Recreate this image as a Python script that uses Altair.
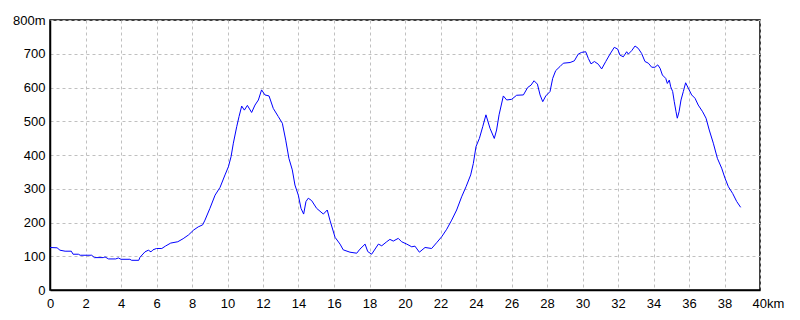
import altair as alt
import pandas as pd

# distance along route (km)
km = [0.0, 0.4, 0.56, 0.85, 1.2, 1.3, 1.6, 1.7, 2.35, 2.5, 3.0, 3.1, 3.3, 3.7, 3.85, 4.0, 4.5, 4.6, 5.0,
      5.07, 5.35, 5.54, 5.69, 5.8, 6.0, 6.3, 6.5, 6.8, 7.2, 7.5, 7.8, 8.1, 8.35, 8.6,
      8.73, 9.01, 9.3, 9.58, 9.86, 10.05, 10.2, 10.33, 10.52, 10.65, 10.8, 10.95, 11.12, 11.36, 11.55,
      11.74, 11.92, 12.11, 12.34, 12.58, 12.86, 13.09, 13.28, 13.46, 13.65, 13.8, 13.99, 14.14, 14.29,
      14.42, 14.55, 14.74, 15.02, 15.4, 15.62, 15.77, 16.06, 16.34, 16.52, 16.9, 17.28, 17.46, 17.75,
      17.9, 18.12, 18.5, 18.69, 18.97, 19.15, 19.34, 19.62, 19.81, 20.1, 20.38, 20.56, 20.81, 21.13,
      21.5, 21.78, 22.07, 22.35, 22.63, 22.91, 23.19, 23.44, 23.7, 23.85, 24.0, 24.19, 24.38, 24.56,
      24.79, 25.03, 25.16, 25.3, 25.54, 25.73, 26.01, 26.29, 26.67, 26.91, 27.1, 27.27, 27.46, 27.61,
      27.76, 27.93, 28.17, 28.32, 28.49, 28.73, 28.92, 29.3, 29.54, 29.76, 29.95, 30.18, 30.33, 30.48,
      30.67, 30.89, 31.08, 31.31, 31.55, 31.79, 31.98, 32.11, 32.3, 32.49, 32.58, 32.77, 32.96, 33.14,
      33.33, 33.52, 33.71, 33.9, 34.08, 34.24, 34.37, 34.5, 34.69, 34.78, 34.89, 34.97, 35.08, 35.17,
      35.27, 35.34, 35.44, 35.55, 35.68, 35.81, 35.96, 36.15, 36.34, 36.52, 36.77, 36.96, 37.14, 37.37,
      37.6, 37.84, 38.03, 38.22, 38.46, 38.69, 38.91]

# elevation (m)
elev = [126, 125, 118, 115, 115, 106, 106, 103, 103, 96, 96, 98, 92, 92, 95, 91, 91, 88, 88,
        97, 113, 118, 113, 119, 123, 123, 130, 139, 143, 152, 163, 178, 187, 193,
        207, 242, 281, 304, 341, 365, 395, 435, 484, 514, 545, 533, 547, 526, 548,
        563, 593, 578, 575, 538, 514, 494, 444, 390, 356, 311, 281, 242, 225,
        262, 272, 265, 242, 225, 237, 207, 156, 136, 119, 112, 109, 121, 136,
        114, 106, 136, 131, 143, 150, 145, 153, 143, 136, 128, 130, 112, 126,
        123, 140, 158, 180, 207, 237, 276, 306, 341, 375, 425, 449, 484, 519,
        479, 449, 474, 519, 575, 563, 565, 577, 578, 600, 607, 620, 610, 578,
        558, 575, 588, 627, 650, 662, 672, 674, 679, 699, 704, 706, 686, 670,
        677, 669, 655, 677, 699, 719, 714, 696, 691, 706, 699, 709, 723, 716,
        701, 677, 672, 660, 660, 667, 657, 637, 627, 612, 622, 602, 588, 558,
        528, 509, 528, 563, 588, 614, 598, 578, 568, 548, 528, 509, 474, 435,
        390, 361, 331, 306, 286, 262, 245]

x_ticks = list(range(0, 41, 2))
y_ticks = list(range(0, 801, 100))

df = pd.DataFrame({"km": km, "elev": elev})

FONT = "Liberation Sans"

line = alt.Chart(df).mark_line(color="#0000ff", strokeWidth=1, interpolate="linear").encode(
    x=alt.X("km:Q",
            scale=alt.Scale(domain=[0, 40], nice=False, zero=False),
            axis=alt.Axis(values=x_ticks, title=None, ticks=False,
                          labelExpr="datum.value == 40 ? '40km' : datum.label",
                          labelAlign={"condition": {"test": "datum.value == 40", "value": "left"}, "value": "center"},
                          labelOffset={"condition": {"test": "datum.value == 40", "value": -8}, "value": 0},
                          labelPadding=7, labelFlush=False, labelOverlap=False,
                          grid=True, gridColor="#c0c0c0", gridDash=[3, 3], gridWidth=1,
                          domainColor="#000000", domainWidth=1.5,
                          labelFont=FONT, labelFontSize=13, labelColor="#000000")),
    y=alt.Y("elev:Q",
            scale=alt.Scale(domain=[0, 800], nice=False),
            axis=alt.Axis(values=y_ticks, title=None, ticks=False,
                          labelExpr="datum.value == 800 ? '800m' : datum.label",
                          labelPadding=5, labelFlush=False, labelOverlap=False,
                          grid=True, gridColor="#c0c0c0", gridDash=[3, 3], gridWidth=1,
                          domainColor="#000000", domainWidth=1.5,
                          labelFont=FONT, labelFontSize=13, labelColor="#000000")),
)

chart = line.properties(
    width=710, height=270,
    autosize=alt.AutoSizeParams(type="none"),
    padding={"left": 50, "top": 20, "right": 40, "bottom": 30},
    background="#ffffff",
).configure_view(stroke="#000000", strokeWidth=1.5)

chart.save("out.html", embed_options={"renderer": "svg", "actions": False})
